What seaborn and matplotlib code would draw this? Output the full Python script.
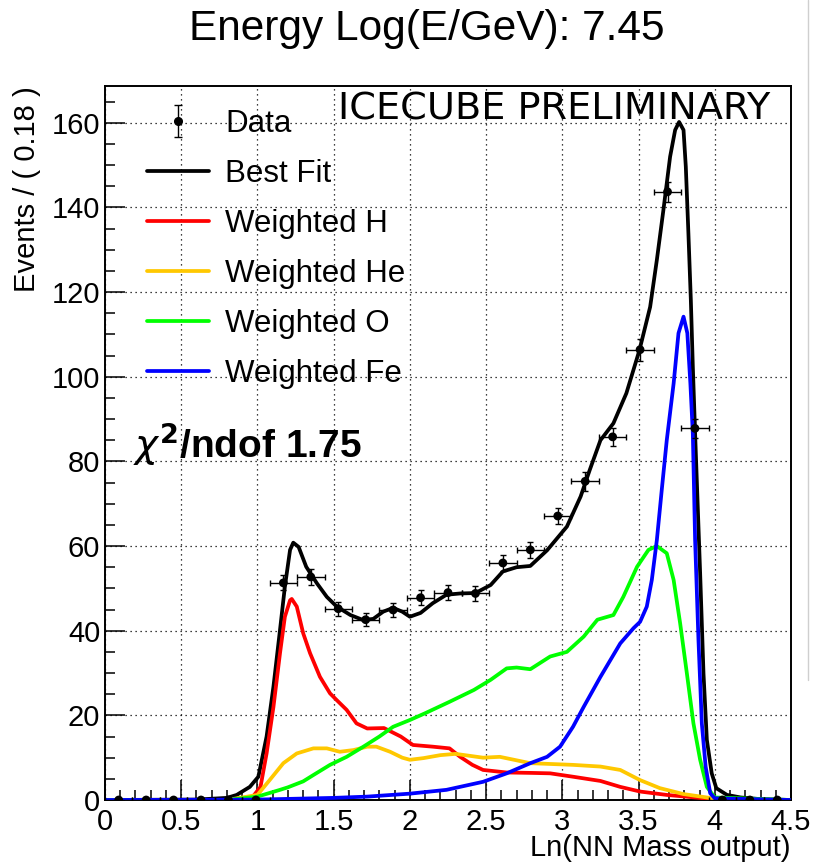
import numpy as np
import pandas as pd
import matplotlib
matplotlib.use("Agg")
import matplotlib.pyplot as plt
from matplotlib.lines import Line2D
from matplotlib.ticker import MultipleLocator
from matplotlib.legend_handler import HandlerErrorbar
import seaborn as sns

# ---- binned data (bin width 0.18) ----
bin_centers = [0.09, 0.27, 0.45, 0.63, 0.81, 0.99, 1.17, 1.35, 1.53, 1.71,
               1.89, 2.07, 2.25, 2.43, 2.61, 2.79, 2.97, 3.15, 3.33, 3.51,
               3.69, 3.87, 4.05, 4.23, 4.41]
data_counts = [0, 0, 0, 0, 0, 0, 51.3, 52.7, 45.2, 42.6,
               44.9, 47.8, 49.0, 48.8, 56.0, 59.1, 67.1, 75.3, 85.8, 106.4,
               143.7, 87.8, 0, 0, 0]
data_err = [0, 0, 0, 0, 0, 0, 1.8, 1.8, 1.7, 1.6,
            1.7, 1.7, 1.8, 1.8, 1.9, 1.9, 2.0, 2.2, 2.2, 2.6,
            2.4, 2.3, 0, 0, 0]
bin_half = 0.09

# ---- fitted templates ----
fit_x = [0, 0.6, 0.8, 0.864, 0.95, 1.006, 1.06, 1.105, 1.148, 1.18, 1.214, 1.235,
         1.27, 1.32, 1.39, 1.455, 1.52, 1.61, 1.695, 1.76, 1.825, 1.89, 1.95, 2.0,
         2.07, 2.15, 2.24, 2.33, 2.43, 2.53, 2.61, 2.7, 2.79, 2.9, 3.03, 3.12, 3.18,
         3.25, 3.335, 3.42, 3.506, 3.576, 3.62, 3.663, 3.707, 3.74, 3.766, 3.795,
         3.81, 3.827, 3.843, 3.856, 3.871, 3.904, 3.926, 3.948, 3.98, 4.01, 4.08,
         4.17, 4.3, 4.5]
fit_y = [0, 0.1, 0.5, 1.2, 3.1, 5.5, 15.0, 26.8, 40.2, 50.4, 59.1, 60.8,
         59.8, 55.1, 51.2, 48.0, 45.7, 43.7, 42.5, 42.8, 44.5, 45.4, 44.5, 43.3,
         44.2, 46.5, 48.5, 48.8, 48.9, 50.8, 54.0, 55.0, 55.3, 59.0, 64.6, 71.7, 78.0,
         85.0, 89.0, 96.1, 106.3, 116.5, 127.6, 139.4, 152.0, 158.3, 160.2, 158.3,
         149.6, 133.9, 118.1, 102.4, 86.6, 53.6, 29.9, 14.2, 6.3, 2.8, 1.2,
         0.6, 0.2, 0]

h_x = [0, 0.8, 0.97, 1.02, 1.06, 1.105, 1.148, 1.18, 1.214, 1.225, 1.258, 1.30,
       1.345, 1.41, 1.476, 1.52, 1.585, 1.65, 1.72, 1.83, 1.94, 2.02, 2.15, 2.26,
       2.33, 2.41, 2.48, 2.635, 2.8, 2.92, 3.07, 3.25, 3.38, 3.51, 3.685, 3.9,
       4.0, 4.5]
h_y = [0, 0, 0.8, 3.1, 11.0, 22.0, 34.7, 43.3, 47.2, 47.5, 45.7, 39.4,
       34.7, 29.1, 25.2, 23.6, 21.3, 18.1, 16.9, 17.0, 15.0, 13.0, 12.6, 12.2,
       10.2, 8.3, 7.1, 6.5, 6.4, 6.3, 5.5, 4.5, 3.1, 2.0, 1.2, 0.5,
       0.1, 0]

he_x = [0, 0.8, 1.0, 1.08, 1.17, 1.258, 1.367, 1.455, 1.54, 1.63, 1.72, 1.78,
        1.87, 1.95, 2.0, 2.09, 2.2, 2.3, 2.48, 2.59, 2.79, 3.07, 3.25, 3.38,
        3.51, 3.64, 3.795, 3.948, 4.05, 4.5]
he_y = [0, 0, 1.2, 4.7, 8.7, 11.0, 12.2, 12.2, 11.4, 11.8, 12.6, 12.6,
        11.4, 10.0, 9.5, 9.9, 10.6, 10.9, 10.0, 10.2, 8.7, 8.3, 7.9, 7.1,
        4.7, 2.8, 1.4, 0.6, 0.1, 0]

o_x = [0, 0.8, 1.0, 1.148, 1.2, 1.3, 1.367, 1.476, 1.585, 1.695, 1.80, 1.89,
       2.0, 2.1, 2.26, 2.42, 2.53, 2.635, 2.7, 2.79, 2.92, 3.03, 3.14, 3.23,
       3.335, 3.40, 3.49, 3.565, 3.62, 3.685, 3.73, 3.773, 3.817, 3.86, 3.904,
       3.948, 4.0, 4.5]
o_y = [0, 0, 0.8, 2.4, 3.0, 4.4, 5.9, 8.3, 10.2, 12.6, 15.0, 17.3,
       18.9, 20.5, 23.2, 26.0, 28.4, 31.1, 31.3, 30.9, 33.9, 35.0, 38.6, 42.6,
       43.7, 48.0, 55.1, 59.1, 60.0, 58.3, 52.0, 41.7, 29.9, 18.1, 9.5,
       3.1, 0.6, 0]

fe_x = [0, 1.0, 1.5, 1.72, 2.0, 2.24, 2.48, 2.635, 2.79, 2.9, 2.985, 3.07,
        3.14, 3.25, 3.38, 3.467, 3.51, 3.554, 3.587, 3.62, 3.652, 3.685, 3.73,
        3.762, 3.795, 3.82, 3.84, 3.856, 3.871, 3.893, 3.915, 3.94, 3.97, 4.0,
        4.5]
fe_y = [0, 0.1, 0.5, 0.8, 1.5, 2.4, 4.3, 6.3, 8.7, 10.2, 12.6, 17.3,
        22.0, 29.1, 37.0, 40.6, 42.1, 45.7, 52.0, 61.4, 73.2, 85.0, 98.4,
        110.3, 114.2, 110.3, 98.4, 86.6, 61.4, 37.8, 18.1, 7.9, 1.6, 0.4,
        0]

labels = ["Best Fit", "Weighted H", "Weighted He", "Weighted O", "Weighted Fe"]
colors = ["#000000", "#FF0000", "#FFC800", "#00FF00", "#0000FF"]

curves = pd.concat([
    pd.DataFrame({"x": fit_x, "y": fit_y, "component": labels[0]}),
    pd.DataFrame({"x": h_x, "y": h_y, "component": labels[1]}),
    pd.DataFrame({"x": he_x, "y": he_y, "component": labels[2]}),
    pd.DataFrame({"x": o_x, "y": o_y, "component": labels[3]}),
    pd.DataFrame({"x": fe_x, "y": fe_y, "component": labels[4]}),
], ignore_index=True)
points = pd.DataFrame({"x": bin_centers, "y": data_counts, "err": data_err})

sns.set_theme(style="white")
plt.rcParams["font.family"] = ["Liberation Sans", "DejaVu Sans"]
plt.rcParams["mathtext.fontset"] = "dejavusans"
plt.rcParams["text.color"] = "black"
plt.rcParams["axes.labelcolor"] = "black"
plt.rcParams["xtick.color"] = "black"
plt.rcParams["ytick.color"] = "black"

fig = plt.figure(figsize=(8.16, 8.65), dpi=100)
ax = fig.add_axes([105 / 816, 65 / 865, 686 / 816, 714 / 865])

lw = 2.7
sns.lineplot(data=curves, x="x", y="y", hue="component", hue_order=labels,
             palette=dict(zip(labels, colors)), estimator=None, sort=False,
             linewidth=lw, legend=False, ax=ax, zorder=3)
for ln in ax.get_lines():
    ln.set_solid_joinstyle("round")

ax.errorbar(points["x"], points["y"], xerr=bin_half, yerr=points["err"],
            fmt="none", ecolor="black", elinewidth=1.0, capsize=2.2,
            capthick=1.0, zorder=5)
sns.scatterplot(data=points, x="x", y="y", color="black", s=40,
                edgecolor="none", ax=ax, zorder=6)

ax.set_xlim(0, 4.5)
ax.set_ylim(0, 168.7)
ax.xaxis.set_major_locator(MultipleLocator(0.5))
ax.xaxis.set_minor_locator(MultipleLocator(0.1))
ax.yaxis.set_major_locator(MultipleLocator(20))
ax.yaxis.set_minor_locator(MultipleLocator(5))
ax.set_xticks([0, 0.5, 1, 1.5, 2, 2.5, 3, 3.5, 4, 4.5])
ax.set_xticklabels(["0", "0.5", "1", "1.5", "2", "2.5", "3", "3.5", "4", "4.5"])
ax.tick_params(which="major", direction="in", length=14.4, width=1.1,
               labelsize=21, colors="black", bottom=True, left=True,
               top=False, right=False)
ax.tick_params(axis="x", which="major", pad=5.5)
ax.tick_params(axis="y", which="major", pad=3.5)
ax.tick_params(which="minor", direction="in", length=7.2, width=1.1,
               colors="black", bottom=True, left=True, top=False, right=False)
ax.grid(True, which="major", color="black", linestyle=(0, (1, 3)),
        linewidth=0.9)
for s in ax.spines.values():
    s.set_linewidth(1.4)
    s.set_color("black")

ax.set_xlabel("Ln(NN Mass output)", fontsize=21, loc="right", labelpad=-1,
              color="black")
ax.set_ylabel("Events / ( 0.18 )", fontsize=21, loc="top", labelpad=8,
              color="black")

# legend
data_handle = ax.errorbar([np.nan], [np.nan], yerr=[1.0], fmt="o", color="black",
                          markersize=5.5, elinewidth=1.0, capsize=3.0,
                          capthick=1.0)
line_handles = [Line2D([], [], color=c, linewidth=lw) for c in colors]
leg = ax.legend([data_handle] + line_handles, ["Data"] + labels,
                loc="upper left", bbox_to_anchor=(0.061, 0.968),
                frameon=False, fontsize=22.5, handlelength=2.0,
                handletextpad=0.5, labelspacing=0.64, borderpad=0,
                borderaxespad=0, labelcolor="black",
                handler_map={type(data_handle): HandlerErrorbar(xerr_size=0, yerr_size=0.5)})

fig.text(427 / 816, 1 - 40 / 865, "Energy Log(E/GeV): 7.45", fontsize=30.5,
         ha="center", va="baseline", color="black")
fig.text(338 / 816, 1 - 120 / 865, "ICECUBE PRELIMINARY", fontsize=27.5,
         family="DejaVu Sans", ha="left", va="baseline", color="black")
fig.text(133 / 816, 1 - 458 / 865, r"$\chi^{\mathbf{2}}$/ndof 1.75", fontsize=28,
         fontweight="bold", ha="left", va="baseline", color="black")

# thin border line at the right edge of the canvas
fig.add_artist(Line2D([808 / 816, 808 / 816], [1 - 680 / 865, 1.0],
                      transform=fig.transFigure, color="#cfcfcf", linewidth=1))

fig.savefig("out.png", dpi=100)
